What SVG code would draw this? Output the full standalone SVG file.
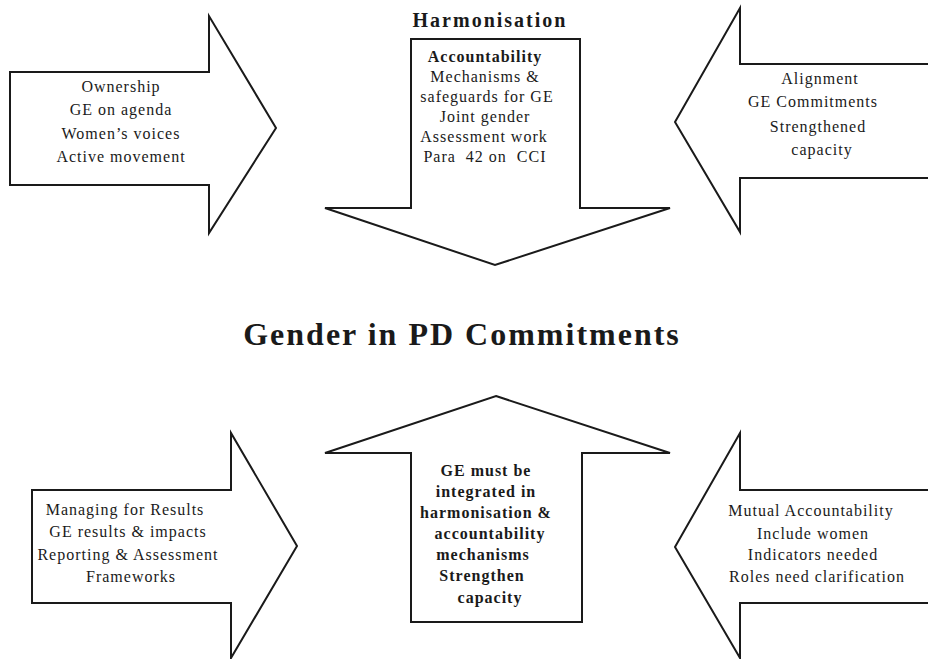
<svg xmlns="http://www.w3.org/2000/svg" width="928" height="659" viewBox="0 0 928 659">
<style>
.arrow{fill:#fff;stroke:#1a1a1a;stroke-width:2;stroke-linejoin:miter}
.t{font-family:"Liberation Serif","Times New Roman",serif;font-size:16px;fill:#1a1a1a;text-anchor:middle;letter-spacing:1px}
.b{font-weight:bold;letter-spacing:1px}
.h{font-family:"Liberation Serif","Times New Roman",serif;font-weight:bold;fill:#1a1a1a;text-anchor:middle}
</style>
<rect width="928" height="659" fill="#fff"/>
<g id="ownership">
<polygon class="arrow" points="10,72 209,72 209,16 276,128 209,233 209,185 10,185"/>
<text class="t" x="121" y="92">Ownership</text>
<text class="t" x="121" y="115">GE on agenda</text>
<text class="t" x="121" y="139">Women’s voices</text>
<text class="t" x="121" y="162">Active movement</text>
</g>
<g id="harmonisation">
<text class="h" x="490" y="27" font-size="20" letter-spacing="2">Harmonisation</text>
<polygon class="arrow" points="411,39 580,39 580,208 670,208 495,265 325,208 411,208"/>
<text class="t b" x="485" y="62">Accountability</text>
<text class="t" x="485" y="82">Mechanisms &amp;</text>
<text class="t" x="487" y="102">safeguards for GE</text>
<text class="t" x="485" y="122">Joint gender</text>
<text class="t" x="484" y="142">Assessment work</text>
<text class="t" x="485" y="162" xml:space="preserve">Para  42 on  CCI</text>
</g>
<g id="alignment">
<polygon class="arrow" points="935,64 740,64 740,8 675,122 740,232 740,178 935,178"/>
<text class="t" x="820" y="84">Alignment</text>
<text class="t" x="813" y="107">GE Commitments</text>
<text class="t" x="818" y="132">Strengthened</text>
<text class="t" x="822" y="155">capacity</text>
</g>
<g id="title">
<text class="h" x="462" y="345" font-size="32" letter-spacing="2">Gender in PD Commitments</text>
</g>
<g id="managing-for-results">
<polygon class="arrow" points="32,490 231,490 231,433 297,546 231,658 231,603 32,603"/>
<text class="t" x="125" y="515">Managing for Results</text>
<text class="t" x="128" y="537">GE results &amp; impacts</text>
<text class="t" x="128" y="560">Reporting &amp; Assessment</text>
<text class="t" x="131" y="582">Frameworks</text>
</g>
<g id="integration">
<polygon class="arrow" points="496,396 670,453 582,453 582,622 411,622 411,453 325,453"/>
<text class="t b" x="486" y="476">GE must be</text>
<text class="t b" x="486" y="497">integrated in</text>
<text class="t b" x="486" y="518">harmonisation &amp;</text>
<text class="t b" x="490" y="539">accountability</text>
<text class="t b" x="483" y="560">mechanisms</text>
<text class="t b" x="482" y="581">Strengthen</text>
<text class="t b" x="490" y="603">capacity</text>
</g>
<g id="mutual-accountability">
<polygon class="arrow" points="935,490 740,490 740,433 675,547 740,658 740,603 935,603"/>
<text class="t" x="811" y="516">Mutual Accountability</text>
<text class="t" x="813" y="539">Include women</text>
<text class="t" x="813" y="560">Indicators needed</text>
<text class="t" x="817" y="582">Roles need clarification</text>
</g>
<g id="connectors"></g>
</svg>
